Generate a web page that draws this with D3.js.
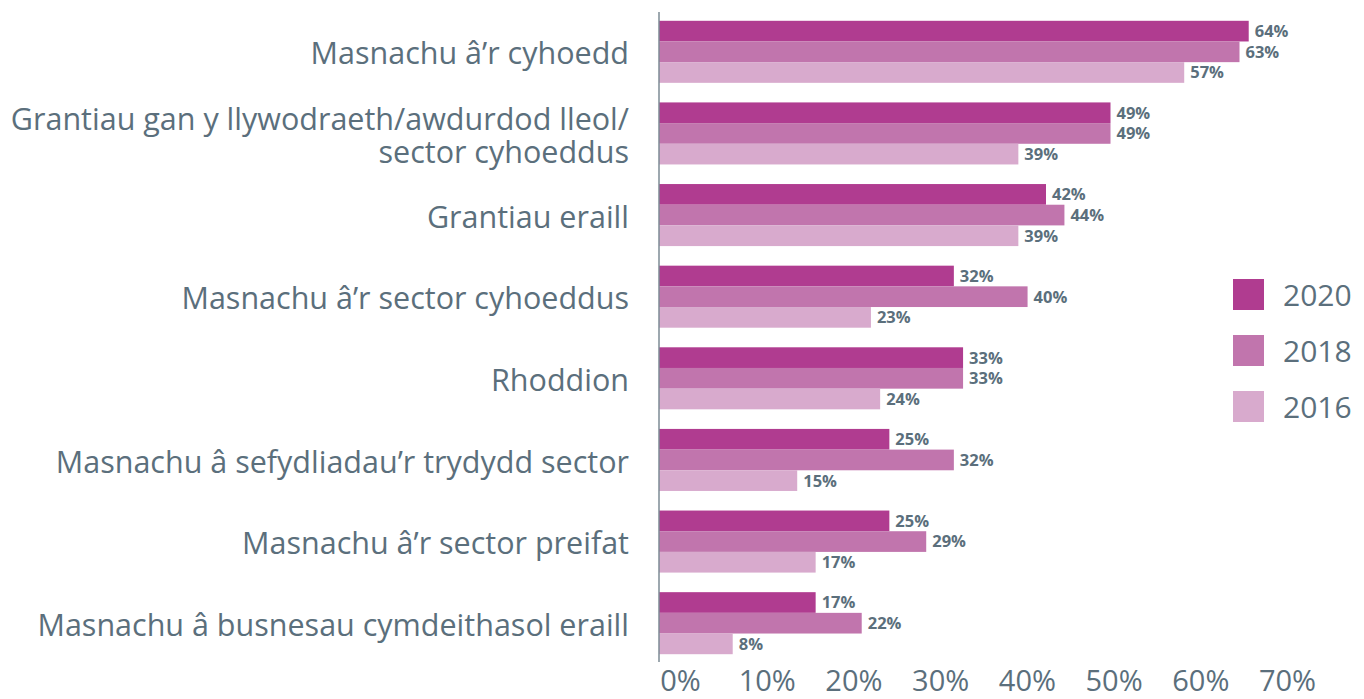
<!DOCTYPE html>
<html>
<head>
<meta charset="utf-8">
<script src="https://cdn.jsdelivr.net/npm/d3@7"></script>
<style>
  body { margin: 0; background: #fff; }
  svg { display: block; font-family: "Open Sans", "Noto Sans", sans-serif; }
</style>
</head>
<body>
<div id="chart"></div>
<script>
const categories = [
    ['Masnachu â’r cyhoedd'],
    ['Grantiau gan y llywodraeth/awdurdod lleol/', 'sector cyhoeddus'],
    ['Grantiau eraill'],
    ['Masnachu â’r sector cyhoeddus'],
    ['Rhoddion'],
    ['Masnachu â sefydliadau’r trydydd sector'],
    ['Masnachu â’r sector preifat'],
    ['Masnachu â busnesau cymdeithasol eraill'],
];
const years = ['2020', '2018', '2016'];
const values2020 = [64, 49, 42, 32, 33, 25, 25, 17];
const values2018 = [63, 49, 44, 40, 33, 32, 29, 22];
const values2016 = [57, 39, 39, 23, 24, 15, 17, 8];
const tickValues = [0, 10, 20, 30, 40, 50, 60, 70];
const colors = ['#b03c90', '#c175ad', '#d8aacd'];

const width = 1364;
const height = 699;
const textColor = '#5b6f7c';

const series = [values2020, values2018, values2016];
const rows = categories.map((lines, i) => ({
    key: i,
    lines,
    vals: years.map((y, j) => ({ year: y, value: series[j][i] })),
}));

const svg = d3.select('#chart')
    .append('svg')
    .attr('width', width)
    .attr('height', height);

// scales
const xScale = d3.scaleLinear().domain([0, 70]).range([659, 1304]);
const yScale = d3.scaleBand()
    .domain(rows.map(d => d.key))
    .range([11, 664])
    .paddingInner(0.24)
    .paddingOuter(0.12);
const subScale = d3.scaleBand()
    .domain(years)
    .range([0, yScale.bandwidth()]);
const color = d3.scaleOrdinal().domain(years).range(colors);

// bars
const groups = svg.append('g')
    .selectAll('g')
    .data(rows)
    .join('g')
    .attr('transform', d => `translate(0, ${yScale(d.key)})`);

groups.selectAll('rect')
    .data(d => d.vals)
    .join('rect')
    .attr('x', xScale(0))
    .attr('y', d => subScale(d.year))
    .attr('width', d => xScale(d.value) - xScale(0))
    .attr('height', subScale.bandwidth())
    .attr('fill', d => color(d.year));

groups.selectAll('text.val')
    .data(d => d.vals)
    .join('text')
    .attr('class', 'val')
    .attr('x', d => xScale(d.value) + 6)
    .attr('y', d => subScale(d.year) + subScale.bandwidth() / 2)
    .attr('dy', '0.36em')
    .attr('fill', textColor)
    .attr('font-size', 16.5)
    .attr('font-weight', 'bold')
    .text(d => d.value + '%');

// category labels
groups.append('text')
    .attr('x', 629)
    .attr('y', yScale.bandwidth() / 2 + 2)
    .attr('text-anchor', 'end')
    .attr('fill', textColor)
    .attr('font-size', 30.5)
    .each(function (d) {
        const t = d3.select(this);
        const n = d.lines.length;
        d.lines.forEach((line, k) => {
            t.append('tspan')
                .attr('x', 629)
                .attr('dy', k === 0 ? `${0.35 - (n - 1) * 0.54}em` : '1.08em')
                .text(line);
        });
    });

// vertical axis line
svg.append('line')
    .attr('x1', xScale(0)).attr('x2', xScale(0))
    .attr('y1', 12).attr('y2', 662)
    .attr('stroke', '#7d8b95')
    .attr('stroke-width', 1.5);

// x tick labels (spaced a bit tighter than the bars in the original)
const labelScale = d3.scaleLinear().domain([0, 70]).range([680, 1287]);
const xAxis = svg.append('g')
    .attr('transform', 'translate(0, 671)')
    .call(d3.axisBottom(labelScale).tickValues(tickValues).tickSize(0).tickFormat(d => d + '%'));
xAxis.select('.domain').remove();
xAxis.selectAll('text')
    .attr('fill', textColor)
    .attr('font-size', 29)
    .attr('font-family', '"Open Sans", sans-serif')
    .attr('dy', '0.6em');

// legend
const legend = svg.append('g')
    .selectAll('g')
    .data(years)
    .join('g')
    .attr('transform', (d, i) => `translate(1233, ${279 + i * 56})`);

legend.append('rect')
    .attr('width', 31)
    .attr('height', 31)
    .attr('fill', d => color(d));

legend.append('text')
    .attr('x', 50)
    .attr('y', 16)
    .attr('dy', '0.35em')
    .attr('fill', textColor)
    .attr('font-size', 30)
    .text(d => d);
</script>
</body>
</html>
